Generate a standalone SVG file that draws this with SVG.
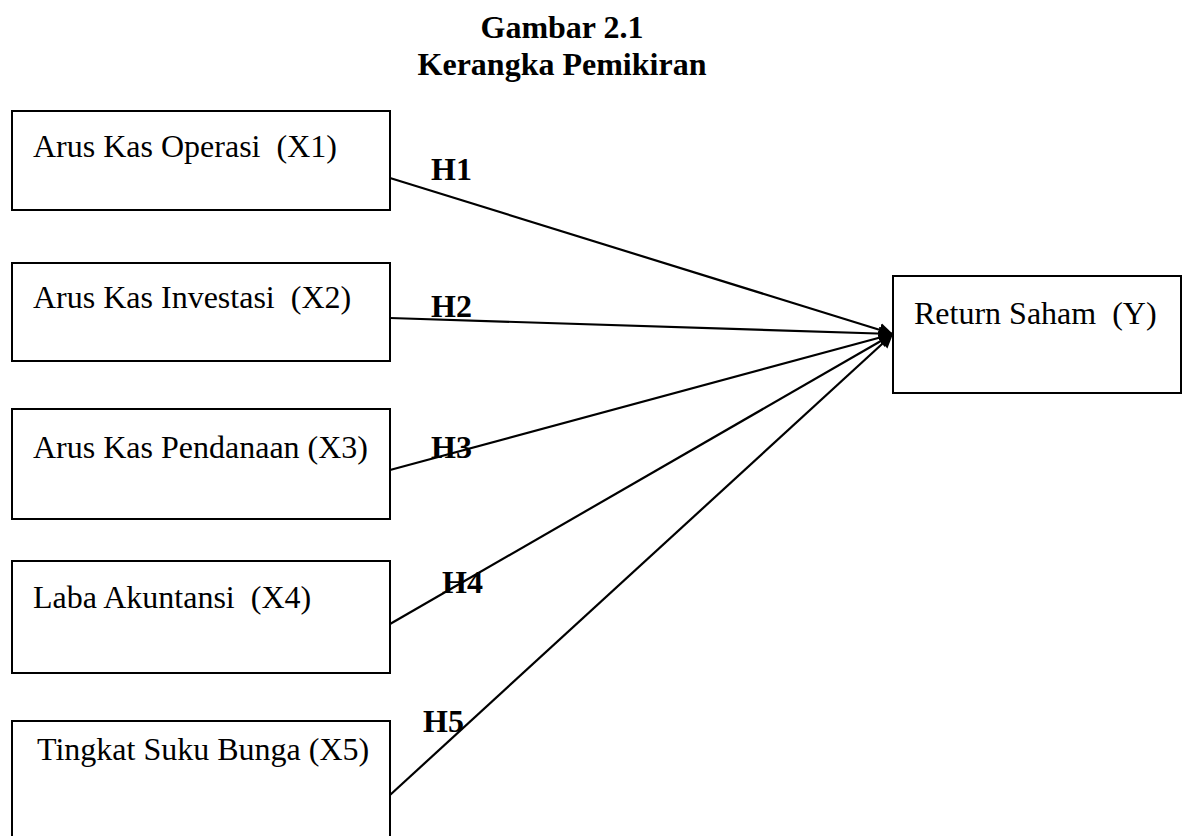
<svg xmlns="http://www.w3.org/2000/svg" width="1186" height="836" viewBox="0 0 1186 836">
<style>
.box{fill:#fff;stroke:#000;stroke-width:2}
.lbl{font-family:"Liberation Serif","Times New Roman",serif;font-size:32px;fill:#000;white-space:pre}
.h{font-family:"Liberation Serif","Times New Roman",serif;font-size:32px;font-weight:bold;fill:#000}
.title{font-family:"Liberation Serif","Times New Roman",serif;font-size:32px;font-weight:bold;fill:#000;text-anchor:middle}
.conn{stroke:#000;stroke-width:2.2;fill:none;marker-end:url(#arr)}
</style>
<defs>
<marker id="arr" markerUnits="userSpaceOnUse" markerWidth="16" markerHeight="14" refX="14" refY="7" orient="auto">
<path d="M0,0 L14,7 L0,14 z" fill="#000"/>
</marker>
</defs>
<rect width="1186" height="836" fill="#fff"/>
<g id="title">
<text class="title" x="562" y="38">Gambar 2.1</text>
<text class="title" x="562" y="75">Kerangka Pemikiran</text>
</g>
<g id="x1"><rect class="box" x="12" y="111" width="378" height="99"/><text class="lbl" x="33" y="157" xml:space="preserve">Arus Kas Operasi  (X1)</text></g>
<g id="x2"><rect class="box" x="12" y="263" width="378" height="98"/><text class="lbl" x="33" y="308" xml:space="preserve">Arus Kas Investasi  (X2)</text></g>
<g id="x3"><rect class="box" x="12" y="409" width="378" height="110"/><text class="lbl" x="33" y="458" xml:space="preserve">Arus Kas Pendanaan (X3)</text></g>
<g id="x4"><rect class="box" x="12" y="561" width="378" height="112"/><text class="lbl" x="33" y="608" xml:space="preserve">Laba Akuntansi  (X4)</text></g>
<g id="x5"><rect class="box" x="12" y="721" width="378" height="130"/><text class="lbl" x="37" y="760" xml:space="preserve">Tingkat Suku Bunga (X5)</text></g>
<g id="y"><rect class="box" x="893" y="276" width="288" height="117"/><text class="lbl" x="914" y="324" xml:space="preserve">Return Saham  (Y)</text></g>
<g id="connectors">
<line class="conn" x1="390" y1="178" x2="893" y2="334"/>
<line class="conn" x1="390" y1="318" x2="893" y2="334"/>
<line class="conn" x1="390" y1="470" x2="893" y2="334"/>
<line class="conn" x1="390" y1="624" x2="893" y2="334"/>
<line class="conn" x1="390" y1="795" x2="893" y2="334"/>
<text class="h" x="431" y="180">H1</text>
<text class="h" x="431" y="317">H2</text>
<text class="h" x="431" y="458">H3</text>
<text class="h" x="442" y="593">H4</text>
<text class="h" x="423" y="732">H5</text>
</g>
</svg>
